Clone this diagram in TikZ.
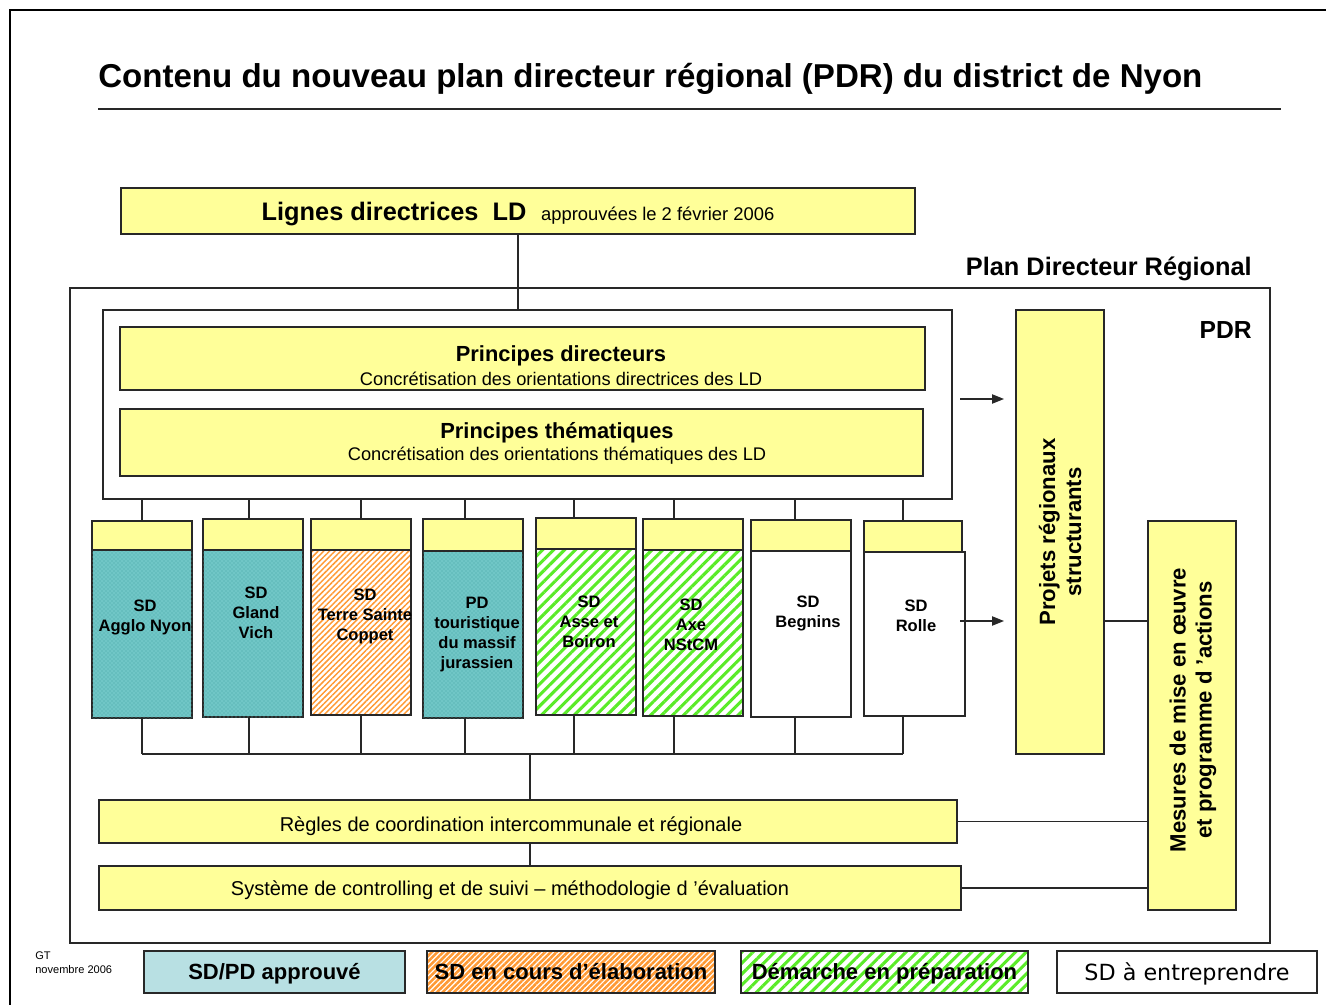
\documentclass[tikz,border=0pt]{standalone}
\usepackage{fontspec}
\setmainfont{Liberation Sans}
\newfontfamily\dejavu{DejaVu Sans}
\usetikzlibrary{arrows.meta,patterns,patterns.meta,calc}

\definecolor{yel}{RGB}{255,255,153}
\definecolor{tealfill}{RGB}{112,198,198}
\definecolor{tealdot}{RGB}{72,166,166}
\definecolor{tealleg}{RGB}{184,224,227}
\definecolor{orangeS}{RGB}{255,153,51}
\definecolor{greenS}{RGB}{90,235,40}
\definecolor{edge}{RGB}{40,40,40}

\tikzset{
  R/.style n args={4}{minimum width={(#3-#1)*0.75pt}, minimum height={(#4-#2)*0.75pt}, at={({(#1+#3)/2},{(#2+#4)/2})}},
  box/.style={draw=edge, line width=0.9pt, rectangle, inner sep=0pt, outer sep=0pt},
  ybox/.style={box, fill=yel},
  tealbox/.style={box, fill=tealfill, postaction={pattern=crosshatch dots, pattern color=tealdot}},
  orbox/.style={box, pattern={Lines[angle=45,distance=3pt,line width=1.1pt]}, pattern color=orangeS},
  orleg/.style={box, pattern={Lines[angle=45,distance=3pt,line width=1.9pt]}, pattern color=orangeS},
  grbox/.style={box, pattern={Lines[angle=45,distance=5.8pt,line width=2.3pt]}, pattern color=greenS},
  wbox/.style={box, fill=white},
  sdtext/.style={align=center, font=\fontsize{12.4}{15}\selectfont\bfseries, inner sep=0pt},
  conn/.style={draw=edge, line width=0.9pt},
  arr/.style={conn, -{Triangle[length=9pt,width=7pt]}},
  legtext/.style={font=\fontsize{16.5}{19}\selectfont\bfseries, text height=11.8pt, text depth=0pt},
}

\begin{document}
\begin{tikzpicture}[x=0.75pt,y=-0.75pt]
\useasboundingbox (0,0) rectangle (1326,1005);
\fill[white] (0,0) rectangle (1326,1005);
% outer frame
\draw[line width=1.5pt] (10,1010) -- (10,10) -- (1330,10);

% title
\node[anchor=base west, inner sep=0pt, font=\fontsize{24.8}{28}\selectfont\bfseries] (title) at (98,88) {Contenu du nouveau plan directeur régional (PDR) du district de Nyon};
\draw[line width=1.2pt, draw=edge] (98,109) -- (1281,109);

% Lignes directrices
\node[ybox, R={121}{188}{915}{234}, text height=13.6pt, text depth=0pt] (ld) {{\fontsize{19}{23}\selectfont\bfseries Lignes directrices\ \ LD}\hspace{11pt}{\fontsize{13.8}{16}\selectfont approuvées le 2 février 2006}};

\node[anchor=east, inner sep=0pt, font=\fontsize{19}{23}\selectfont\bfseries] (pdrlabel) at (1252,269) {Plan Directeur Régional};

% PDR frame
\node[box, line width=1.4pt, R={70}{288}{1270}{943}] (pdr) {};
\node[anchor=east, inner sep=0pt, font=\fontsize{18.5}{22}\selectfont\bfseries] (pdrt) at (1252,330) {PDR};

% inner box
\node[wbox, R={103}{310}{952}{499}] (inner) {};
\draw[conn] (ld.south) -- (ld.south |- inner.north);

\node[ybox, R={120}{327}{925}{390}] (pdir) {};
\node[font=\fontsize{16.4}{19}\selectfont\bfseries, inner sep=0pt] (pdirt) at (561,356) {Principes directeurs};
\node[font=\fontsize{13.7}{16}\selectfont, inner sep=0pt] (pdirs) at (561,379) {Concrétisation des orientations directrices des LD};

\node[ybox, R={120}{409}{923}{476}] (pthem) {};
\node[font=\fontsize{16.4}{19}\selectfont\bfseries, inner sep=0pt] (pthemt) at (557,433) {Principes thématiques};
\node[font=\fontsize{13.7}{16}\selectfont, inner sep=0pt] (pthems) at (557,456) {Concrétisation des orientations thématiques des LD};

% right column
\node[ybox, R={1016}{310}{1104}{754}] (proj) {};
\node[rotate=90, align=center, inner sep=0pt, font=\fontsize{16.6}{19.5}\selectfont\bfseries] (projt) at (1060,532) {Projets régionaux\\structurants};

\node[ybox, R={1148}{521}{1236}{910}] (mes) {};
\node[rotate=90, align=center, inner sep=0pt, font=\fontsize{16.6}{19.5}\selectfont\bfseries] (mest) at (1193,710) {Mesures de mise en \oe uvre\\et programme d ’actions};

% SD boxes
\node[tealbox, R={92}{550}{192}{718}] (bd1) {};
\node[ybox, R={92}{521}{192}{550}] (hd1) {};
\node[sdtext] (tx1) at (145,617) {SD\\Agglo Nyon};

\node[tealbox, R={203}{550}{303}{717}] (bd2) {};
\node[ybox, R={203}{519}{303}{550}] (hd2) {};
\node[sdtext] (tx2) at (256,613) {SD\\Gland\\Vich};

\node[orbox, R={311}{550}{411}{715}] (bd3) {};
\node[ybox, R={311}{519}{411}{550}] (hd3) {};
\node[sdtext] (tx3) at (365,616) {SD\\Terre Sainte\\Coppet};

\node[tealbox, R={423}{551}{523}{718}] (bd4) {};
\node[ybox, R={423}{519}{523}{551}] (hd4) {};
\node[sdtext] (tx4) at (477,635) {PD\\touristique\\du massif\\jurassien};

\node[grbox, R={536}{549}{636}{715}] (bd5) {};
\node[ybox, R={536}{518}{636}{549}] (hd5) {};
\node[sdtext] (tx5) at (589,622) {SD\\Asse et\\Boiron};

\node[grbox, R={643}{550}{743}{716}] (bd6) {};
\node[ybox, R={643}{519}{743}{550}] (hd6) {};
\node[sdtext] (tx6) at (691,625) {SD\\Axe\\NStCM};

\node[wbox, R={751}{551}{851}{717}] (bd7) {};
\node[ybox, R={751}{520}{851}{551}] (hd7) {};
\node[sdtext] (tx7) at (808,613) {SD\\Begnins};

\node[wbox, R={864}{552}{965}{716}] (bd8) {};
\node[ybox, R={864}{521}{962}{552}] (hd8) {};
\node[sdtext] (tx8) at (916,616) {SD\\Rolle};

% connectors top and bottom
\coordinate (bus) at (530,754);
\foreach \i/\x in {1/142,2/249,3/361,4/465,5/574,6/674,7/795,8/903}{
  \coordinate (c\i) at (\x,0);
  \draw[conn] (inner.south -| c\i) -- (hd\i.north -| c\i);
  \draw[conn] (bd\i.south -| c\i) -- (bus -| c\i);
}
\draw[conn] (bus -| c1) -- (bus -| c8);

% Regles and Systeme
\node[ybox, R={99}{800}{957}{843}] (regles) {};
\node[font=\fontsize{15}{18}\selectfont, inner sep=0pt] (reglest) at (511,826) {Règles de coordination intercommunale et régionale};
\node[ybox, R={99}{866}{961}{910}] (sys) {};
\node[font=\fontsize{15}{18}\selectfont, inner sep=0pt] (syst) at (510,890) {Système de controlling et de suivi – méthodologie d ’évaluation};

\draw[conn] (bus) -- (regles.north -| bus);
\draw[conn] (regles.south -| bus) -- (sys.north -| bus);

% arrows and lines to right column
\coordinate (a1) at (960,399);
\coordinate (b1) at (1004,399);
\coordinate (a2) at (960,621);
\coordinate (b2) at (1004,621);
\draw[arr] (a1) -- (b1);
\draw[arr] (a2) -- (b2);
\draw[conn] (proj.east |- a2) -- (mes.west |- a2);
\draw[conn] (regles.east) -- (regles.east -| mes.west);
\draw[conn] (sys.east) -- (sys.east -| mes.west);

% legend
\node[anchor=north west, align=left, inner sep=0pt, font=\fontsize{8.3}{10.5}\selectfont] (gt) at (35,951) {GT\\novembre 2006};
\node[box, fill=tealleg, R={144}{951}{405}{993}, legtext] (l1) {SD/PD approuvé};
\node[orleg, R={427}{951}{715}{993}, legtext] (l2) {SD en cours d’élaboration};
\node[grbox, R={741}{951}{1028}{993}, legtext] (l3) {Démarche en préparation};
\node[wbox, R={1057}{951}{1317}{993}, font=\fontsize{16.7}{19}\dejavu, text height=12.2pt, text depth=0pt] (l4) {SD à entreprendre};
\end{tikzpicture}
\end{document}
